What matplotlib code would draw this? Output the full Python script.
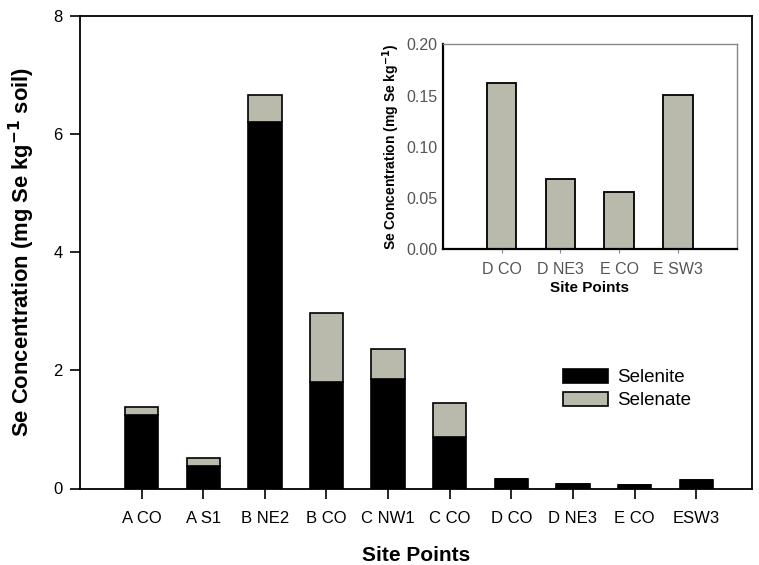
import matplotlib.pyplot as plt
import matplotlib.patches as mpatches
import numpy as np

plt.rcParams['font.family'] = ['Liberation Sans', 'DejaVu Sans']

# main chart data (mg Se / kg soil)
sites = ['A CO', 'A S1', 'B NE2', 'B CO', 'C NW1', 'C CO', 'D CO', 'D NE3', 'E CO', 'ESW3']
selenite = [1.25, 0.38, 6.21, 1.81, 1.86, 0.87, 0.162, 0.069, 0.056, 0.151]
selenate = [0.13, 0.14, 0.45, 1.16, 0.50, 0.57, 0.0, 0.0, 0.0, 0.0]

# inset data
inset_sites = ['D CO', 'D NE3', 'E CO', 'E SW3']
inset_vals = [0.162, 0.069, 0.056, 0.151]

gray = '#b9b9ac'

fig = plt.figure(figsize=(7.59, 5.65), dpi=100)
ax = fig.add_axes([80/759, (565-488.5)/565, 671.7/759, 472.5/565])

x = np.arange(1, len(sites)+1)
ax.bar(x, selenite, width=0.54, color='black', edgecolor='black', linewidth=1.2, label='Selenite')
ax.bar(x, selenate, width=0.54, bottom=selenite, color=gray, edgecolor='black', linewidth=1.2, label='Selenate')

ax.set_xlim(0, 10.9)
ax.set_ylim(0, 8)
ax.set_xticks(x)
ax.set_xticklabels(sites, fontsize=11.5)
ax.set_yticks([0, 2, 4, 6, 8])
ax.tick_params(axis='both', direction='out', length=7, width=1.2, labelsize=12, colors='black')
ax.tick_params(axis='x', pad=9.5)
ax.tick_params(axis='y', pad=5.5)
for s in ax.spines.values():
    s.set_linewidth(1.3)

ax.set_xlabel('Site Points', fontsize=15, fontweight='bold', labelpad=14)
ax.set_ylabel('Se Concentration (mg Se kg$^{\\mathbf{-1}}$ soil)', fontsize=15.8, fontweight='bold')
ax.yaxis.set_label_coords(-0.064, 0.5)

handles = [mpatches.Patch(facecolor='black', edgecolor='black', linewidth=1.2),
           mpatches.Patch(facecolor=gray, edgecolor='black', linewidth=1.2)]
ax.legend(handles, ['Selenite', 'Selenate'], loc='upper left',
          bbox_to_anchor=(563/759, (565-369)/565), bbox_transform=fig.transFigure,
          frameon=False, fontsize=13.5, handlelength=2.4, handleheight=0.75,
          handletextpad=0.5, labelspacing=0.3, borderpad=0, borderaxespad=0)

# inset
ins = fig.add_axes([442.7/759, (565-249.3)/565, 294/759, 205/565])
xi = np.arange(1, len(inset_sites)+1)
ins.bar(xi, inset_vals, width=0.5, color=gray, edgecolor='black', linewidth=1.3)
ins.set_xlim(0, 5)
ins.set_ylim(0, 0.2)
ins.set_xticks(xi)
ins.set_xticklabels(inset_sites)
ins.set_yticks([0, 0.05, 0.10, 0.15, 0.20])
ins.set_yticklabels(['0.00', '0.05', '0.10', '0.15', '0.20'])
ins.tick_params(axis='x', direction='out', length=3, width=0.8, color='#888888',
                labelcolor='#555555', labelsize=11.5, pad=6)
ins.tick_params(axis='y', length=0, labelcolor='#555555', labelsize=11.5, pad=4)
ins.spines['left'].set_linewidth(1.6)
ins.spines['bottom'].set_linewidth(1.6)
ins.spines['top'].set_color('#888888')
ins.spines['right'].set_color('#888888')
ins.spines['top'].set_linewidth(1.0)
ins.spines['right'].set_linewidth(1.0)
ins.set_xlabel('Site Points', fontsize=11, fontweight='bold', labelpad=3)
ins.set_ylabel('Se Concentration (mg Se kg$^{\\mathbf{-1}}$)', fontsize=10, fontweight='bold', labelpad=3)

fig.savefig('out.png', dpi=100)
